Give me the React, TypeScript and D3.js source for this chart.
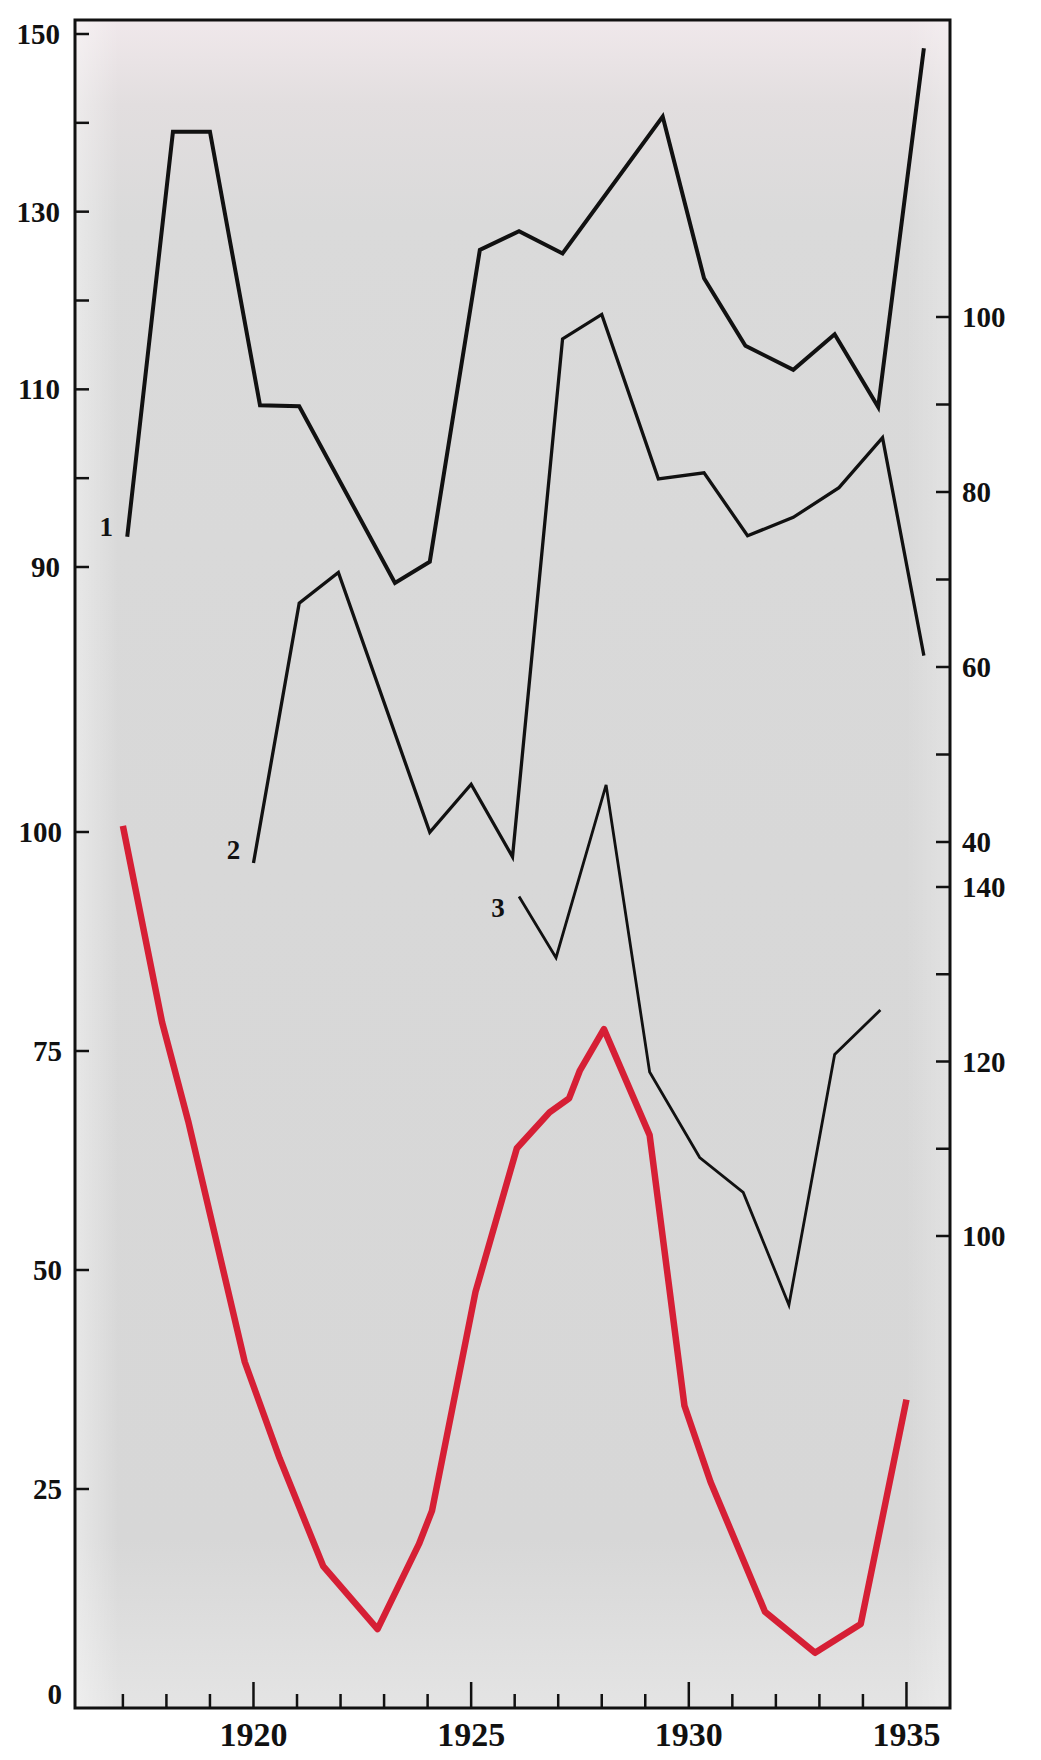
import React from "react";
import * as d3 from "d3";

// ---- data ----
const yearTicks = [1917, 1918, 1919, 1920, 1921, 1922, 1923, 1924, 1925, 1926, 1927, 1928, 1929, 1930, 1931, 1932, 1933, 1934, 1935];
const yearLabels = [1920, 1925, 1930, 1935];

// curve 1 (left upper scale)
const series1Years = [1917.1, 1918.15, 1919.0, 1920.15, 1921.05, 1923.25, 1924.05, 1925.2, 1926.1, 1927.1, 1929.4, 1930.35, 1931.3, 1932.4, 1933.35, 1934.35, 1935.4];
const series1Values = [93.4, 139.0, 139.0, 108.2, 108.1, 88.2, 90.6, 125.7, 127.8, 125.3, 140.7, 122.5, 114.9, 112.2, 116.2, 108.0, 148.4];

// curve 2 (right upper scale)
const series2Years = [1920.0, 1921.05, 1921.95, 1924.05, 1925.0, 1925.95, 1927.1, 1928.0, 1929.3, 1930.35, 1931.35, 1932.4, 1933.45, 1934.45, 1935.4];
const series2Values = [37.6, 67.3, 70.8, 41.1, 46.6, 38.3, 97.5, 100.3, 81.5, 82.2, 75.0, 77.1, 80.5, 86.2, 61.3];

// curve 3 (right lower scale)
const series3Years = [1926.1, 1926.95, 1928.1, 1929.1, 1930.25, 1931.25, 1932.3, 1933.35, 1934.4];
const series3Values = [138.9, 131.9, 151.7, 118.8, 109.0, 105.0, 92.1, 120.8, 125.9];

// red curve (left lower scale)
const redYears = [1917.0, 1917.9, 1918.5, 1919.8, 1920.6, 1921.6, 1922.85, 1923.8, 1924.1, 1925.1, 1926.05, 1926.8, 1927.25, 1927.5, 1928.05, 1929.1, 1929.9, 1930.5, 1931.75, 1932.9, 1933.95, 1935.0];
const redValues = [100.7, 78.3, 67, 39.5, 28.5, 16.2, 9.0, 18.7, 22.5, 47.5, 63.9, 68, 69.6, 72.8, 77.5, 65.4, 34.5, 25.8, 11.0, 6.3, 9.6, 35.2];

const leftTopTicks = [90, 100, 110, 120, 130, 140, 150];
const leftTopLabels = [90, 110, 130, 150];
const leftBottomTicks = [25, 50, 75, 100];
const leftBottomLabels = [0, 25, 50, 75, 100];
const rightTopTicks = [40, 50, 60, 70, 80, 90, 100];
const rightTopLabels = [40, 60, 80, 100];
const rightBottomTicks = [100, 110, 120, 130, 140];
const rightBottomLabels = [100, 120, 140];

const seriesNames = ["1", "2", "3"];

// ---- layout ----
const W = 1041;
const H = 1760;
const L = 75;
const R = 950;
const T = 20;
const B = 1708;

const x = d3.scaleLinear().domain([1915.9, 1936]).range([L, R]);
const yTop = d3.scaleLinear().domain([90, 150]).range([567, 34]);
const yRed = d3.scaleLinear().domain([0, 100]).range([B, 832]);
const yR2 = d3.scaleLinear().domain([40, 100]).range([842, 317]);
const yR3 = d3.scaleLinear().domain([100, 140]).range([1236, 887]);

const font = "'Liberation Serif', 'DejaVu Serif', serif";

function pts(xs: number[], vs: number[]) {
  return xs.map((yr, i) => [yr, vs[i]] as [number, number]);
}

export default function App() {
  const mk = (ys: d3.ScaleLinear<number, number>) =>
    d3
      .line<[number, number]>()
      .x((d) => x(d[0]))
      .y((d) => ys(d[1]));

  const p1 = mk(yTop)(pts(series1Years, series1Values)) || "";
  const p2 = mk(yR2)(pts(series2Years, series2Values)) || "";
  const p3 = mk(yR3)(pts(series3Years, series3Values)) || "";
  const pr = mk(yRed)(pts(redYears, redValues)) || "";

  const labelStyle = { fontFamily: font, fontWeight: 700, fontSize: 29, fill: "#111" } as const;

  return (
    <svg width={W} height={H} style={{ position: "absolute", left: 0, top: 0, background: "#fff" }}>
      <defs>
        <linearGradient id="bg" x1="0" y1="0" x2="0" y2="1">
          <stop offset="0" stopColor="#f0e8eb" />
          <stop offset="0.05" stopColor="#e2dedf" />
          <stop offset="0.12" stopColor="#dadada" />
          <stop offset="0.5" stopColor="#d8d8d8" />
          <stop offset="0.9" stopColor="#d7d7d7" />
          <stop offset="1" stopColor="#e4e4e4" />
        </linearGradient>
        <linearGradient id="edge" x1="0" y1="0" x2="1" y2="0">
          <stop offset="0" stopColor="#ffffff" stopOpacity="0.4" />
          <stop offset="0.05" stopColor="#ffffff" stopOpacity="0" />
          <stop offset="0.95" stopColor="#ffffff" stopOpacity="0" />
          <stop offset="1" stopColor="#ffffff" stopOpacity="0.25" />
        </linearGradient>
      </defs>
      <rect x={0} y={0} width={W} height={H} fill="#fff" />
      <rect x={L} y={T} width={R - L} height={B - T} fill="url(#bg)" />
      <rect x={L} y={T} width={R - L} height={B - T} fill="url(#edge)" />

      {/* frame */}
      <rect x={L} y={T} width={R - L} height={B - T} fill="none" stroke="#111" strokeWidth={3} />

      {/* bottom ticks */}
      {yearTicks.map((yr) => {
        const major = yearLabels.includes(yr);
        return (
          <line key={"bt" + yr} x1={x(yr)} x2={x(yr)} y1={B} y2={B - (major ? 26 : 14)} stroke="#111" strokeWidth={2.5} />
        );
      })}
      {yearLabels.map((yr) => (
        <text key={"bl" + yr} x={x(yr)} y={B + 38} textAnchor="middle" style={{ ...labelStyle, fontSize: 34 }}>
          {yr}
        </text>
      ))}

      {/* left ticks */}
      {leftTopTicks.map((v) => (
        <line key={"lt" + v} x1={L} x2={L + 14} y1={yTop(v)} y2={yTop(v)} stroke="#111" strokeWidth={2.5} />
      ))}
      {leftTopLabels.map((v) => (
        <text key={"ltl" + v} x={60} y={yTop(v) + 10} textAnchor="end" style={labelStyle}>
          {v}
        </text>
      ))}
      {leftBottomTicks.map((v) => (
        <line key={"lb" + v} x1={L} x2={L + 14} y1={yRed(v)} y2={yRed(v)} stroke="#111" strokeWidth={2.5} />
      ))}
      {leftBottomLabels.map((v) => (
        <text key={"lbl" + v} x={62} y={yRed(v) + (v === 0 ? -4 : 10)} textAnchor="end" style={labelStyle}>
          {v}
        </text>
      ))}

      {/* right ticks */}
      {rightTopTicks.map((v) => (
        <line key={"rt" + v} x1={R - 14} x2={R} y1={yR2(v)} y2={yR2(v)} stroke="#111" strokeWidth={2.5} />
      ))}
      {rightTopLabels.map((v) => (
        <text key={"rtl" + v} x={R + 12} y={yR2(v) + 10} textAnchor="start" style={labelStyle}>
          {v}
        </text>
      ))}
      {rightBottomTicks.map((v) => (
        <line key={"rb" + v} x1={R - 14} x2={R} y1={yR3(v)} y2={yR3(v)} stroke="#111" strokeWidth={2.5} />
      ))}
      {rightBottomLabels.map((v) => (
        <text key={"rbl" + v} x={R + 12} y={yR3(v) + 10} textAnchor="start" style={labelStyle}>
          {v}
        </text>
      ))}

      {/* curves */}
      <path d={pr} fill="none" stroke="#d61f35" strokeWidth={6.5} strokeLinejoin="round" strokeLinecap="butt" />
      <path d={p1} fill="none" stroke="#111" strokeWidth={4} strokeLinejoin="miter" />
      <path d={p2} fill="none" stroke="#111" strokeWidth={3.3} strokeLinejoin="miter" />
      <path d={p3} fill="none" stroke="#111" strokeWidth={2.8} strokeLinejoin="miter" />

      {/* curve numbers */}
      <text x={x(series1Years[0]) - 21} y={yTop(series1Values[0]) - 1} textAnchor="middle" style={{ ...labelStyle, fontSize: 27 }}>
        {seriesNames[0]}
      </text>
      <text x={x(series2Years[0]) - 20} y={yR2(series2Values[0]) - 4} textAnchor="middle" style={{ ...labelStyle, fontSize: 27 }}>
        {seriesNames[1]}
      </text>
      <text x={x(series3Years[0]) - 21} y={yR3(series3Values[0]) + 20} textAnchor="middle" style={{ ...labelStyle, fontSize: 27 }}>
        {seriesNames[2]}
      </text>
    </svg>
  );
}
